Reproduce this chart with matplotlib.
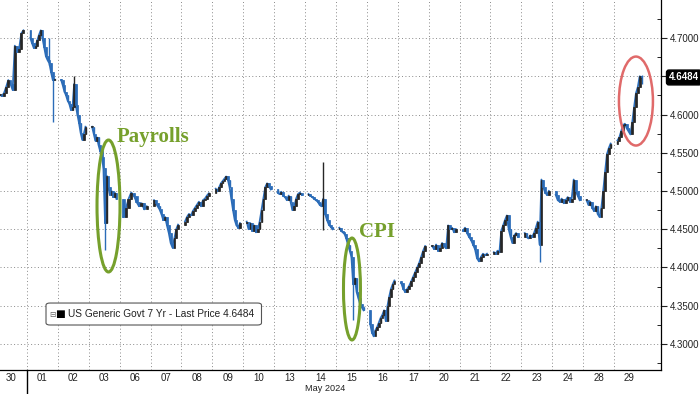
import matplotlib
matplotlib.use("Agg")
import matplotlib.pyplot as plt
import matplotlib.transforms as mtrans
from matplotlib.patches import Ellipse, FancyBboxPatch
import numpy as np

plt.rcParams['font.family'] = ['Liberation Sans', 'DejaVu Sans']

# day labels on the x axis (30 Apr .. 29 May 2024)
day_labels = ["30", "01", "02", "03", "06", "07", "08", "09", "10", "13", "14",
              "15", "16", "17", "20", "21", "22", "23", "24", "28", "29"]

# intraday closes of the US 7yr yield
apr30 = [4.626, 4.624, 4.628, 4.636, 4.645, 4.640, 4.632, 4.690, 4.682, 4.686, 4.706, 4.710]
may01 = [4.700, 4.693, 4.687, 4.690, 4.697, 4.704, 4.710, 4.700, 4.688, 4.676, 4.671, 4.667, 4.655, 4.645, 4.646]
may02 = [4.645, 4.638, 4.630, 4.625, 4.618, 4.614, 4.606, 4.610, 4.640, 4.612, 4.600, 4.589, 4.576, 4.567, 4.575, 4.584]
may03 = [4.584, 4.575, 4.566, 4.570, 4.560, 4.552, 4.545, 4.530, 4.458, 4.520, 4.505, 4.495, 4.500, 4.492, 4.498, 4.490]
may06 = [4.466, 4.478, 4.490, 4.498, 4.494, 4.486, 4.480, 4.484, 4.476, 4.480]
may07 = [4.488, 4.484, 4.480, 4.476, 4.470, 4.462, 4.466, 4.455, 4.445, 4.432, 4.426, 4.438, 4.450, 4.456]
may08 = [4.460, 4.466, 4.470, 4.468, 4.474, 4.478, 4.482, 4.486, 4.480, 4.488, 4.490, 4.494, 4.497]
may09 = [4.503, 4.500, 4.505, 4.510, 4.513, 4.516, 4.519, 4.515, 4.505, 4.490, 4.475, 4.462, 4.455, 4.452, 4.458]
may10 = [4.460, 4.450, 4.458, 4.448, 4.455, 4.446, 4.450, 4.460, 4.475, 4.490, 4.505, 4.510, 4.506, 4.502]
may13 = [4.498, 4.496, 4.499, 4.494, 4.492, 4.488, 4.494, 4.486, 4.475, 4.480, 4.490, 4.496, 4.498, 4.495]
may14 = [4.496, 4.494, 4.492, 4.490, 4.488, 4.486, 4.482, 4.480, 4.490, 4.470, 4.462, 4.456, 4.453, 4.450]
may15 = [4.452, 4.448, 4.446, 4.444, 4.438, 4.430, 4.422, 4.414, 4.378, 4.386, 4.368, 4.360, 4.352, 4.348, 4.344]
may16 = [4.326, 4.315, 4.310, 4.318, 4.322, 4.328, 4.334, 4.338, 4.344, 4.330, 4.350, 4.362, 4.372, 4.378, 4.383]
may17 = [4.380, 4.372, 4.368, 4.372, 4.376, 4.382, 4.388, 4.394, 4.400, 4.406, 4.414, 4.422, 4.428]
may20 = [4.428, 4.424, 4.430, 4.422, 4.426, 4.432, 4.428, 4.425, 4.455, 4.450, 4.452, 4.446, 4.450]
may21 = [4.448, 4.452, 4.445, 4.440, 4.436, 4.430, 4.424, 4.412, 4.408, 4.414, 4.418, 4.416, 4.418]
may22 = [4.420, 4.418, 4.422, 4.420, 4.448, 4.455, 4.462, 4.468, 4.450, 4.440, 4.432, 4.442, 4.445, 4.440]
may23 = [4.445, 4.440, 4.438, 4.442, 4.440, 4.445, 4.452, 4.460, 4.430, 4.515, 4.505, 4.498, 4.495, 4.500]
may24 = [4.495, 4.488, 4.486, 4.490, 4.484, 4.488, 4.492, 4.486, 4.490, 4.515, 4.500, 4.494, 4.488]
may28 = [4.488, 4.482, 4.486, 4.478, 4.474, 4.480, 4.470, 4.466, 4.478, 4.500, 4.525, 4.548, 4.556, 4.562]
may29 = [4.566, 4.570, 4.578, 4.586, 4.588, 4.582, 4.578, 4.574, 4.590, 4.610, 4.628, 4.636, 4.650, 4.6484]

sessions = [apr30, may01, may02, may03, may06, may07, may08, may09, may10, may13, may14,
            may15, may16, may17, may20, may21, may22, may23, may24, may28, may29]

# big intraday wicks: (day index, bar index, low, high)
wicks = [(1, 11, 4.665, 4.700), (1, 13, 4.590, 4.655), (2, 8, 4.610, 4.650),
         (3, 8, 4.423, 4.530), (10, 8, 4.449, 4.538), (11, 8, 4.331, 4.392),
         (17, 8, 4.407, 4.460), (20, 13, 4.640, 4.652)]

last_price = 4.6484

UP = "#262626"
DOWN = "#2b6cb8"
GREEN = "#76a02c"

fig = plt.figure(figsize=(7, 3.94), dpi=100)
ax = fig.add_axes([0, 24 / 394, 661 / 700, 370 / 394])

xs, opens, closes, widths, dayidx = [], [], [], [], []
prev = None
for i, day in enumerate(sessions):
    n = len(day)
    step = 0.84 / n
    for k, c in enumerate(day):
        x = i + 0.08 + step * (k + 0.5)
        o = c if prev is None else prev
        xs.append(x)
        opens.append(o)
        closes.append(c)
        widths.append(step * 0.9)
        dayidx.append((i, k))
        prev = c
    ax.plot([i + 0.08 + step * (k + 0.5) for k in range(n)], day,
            color=DOWN, lw=1.3, zorder=2)

xs = np.array(xs)
opens = np.array(opens)
closes = np.array(closes)
lows = np.minimum(opens, closes)
highs = np.maximum(opens, closes)
heights = closes - opens
heights = np.where(np.abs(heights) < 0.001, 0.001, heights)
colors = [UP if c >= o else DOWN for o, c in zip(opens, closes)]

for (d, k, lo, hi) in wicks:
    j = dayidx.index((d, k))
    lows[j] = min(lows[j], lo)
    highs[j] = max(highs[j], hi)

ax.vlines(xs, lows, highs, colors=colors, lw=1.0, zorder=3)
ax.bar(xs, heights, bottom=opens, width=widths, color=colors,
       edgecolor=colors, linewidth=0.5, zorder=4)

# axes
ax.set_xlim(0.126, 21.52)
ax.set_ylim(4.266, 4.7497)
ax.yaxis.tick_right()
ax.set_yticks(np.arange(4.30, 4.701, 0.05))
ax.set_yticks(np.arange(4.275, 4.75, 0.025), minor=True)
ax.yaxis.set_major_formatter(plt.FuncFormatter(lambda v, p: "%.4f" % v))
ax.tick_params(axis='y', which='major', direction='out', length=4, width=0.8,
               labelsize=7, pad=2, colors='#222222')
ax.tick_params(axis='y', which='minor', direction='in', length=3, width=0.6)
ax.set_xticks(np.arange(len(day_labels)) + 0.5)
ax.set_xticklabels(day_labels)
ax.tick_params(axis='x', length=0, labelsize=7, pad=2.5, colors='#222222')

for s in ['top', 'left']:
    ax.spines[s].set_visible(False)
ax.spines['right'].set_linewidth(0.9)
ax.spines['bottom'].set_linewidth(0.9)

grid_kw = dict(color='#8a8a8a', lw=0.7, ls=(0, (1, 2.5)), zorder=1)
for v in np.arange(4.30, 4.701, 0.05):
    ax.axhline(v, **grid_kw)
for b in range(1, len(day_labels)):
    ax.axvline(b, **grid_kw)

# month separator
blend = mtrans.blended_transform_factory(ax.transData, ax.transAxes)
ax.plot([1, 1], [0, -0.07], transform=blend, color='black', lw=1.0, clip_on=False)
ax.text(10.64, -0.062, "May 2024", transform=blend,
        ha='center', va='bottom', fontsize=6.6, color='#222222')

# last price tag
ax.text(1.012, last_price, "%.4f" % last_price,
        transform=mtrans.blended_transform_factory(ax.transAxes, ax.transData),
        ha='left', va='center', fontsize=7, color='white', fontweight='bold',
        bbox=dict(boxstyle='round,pad=0.25', fc='black', ec='black'))

# annotations
ax.add_patch(Ellipse((3.638, 4.4804), 0.744, 0.1725, fill=False, ec=GREEN, lw=2.2, zorder=6))
ax.add_patch(Ellipse((11.518, 4.3719), 0.55, 0.1333, fill=False, ec=GREEN, lw=2.2, zorder=6))
ax.add_patch(Ellipse((20.709, 4.6176), 1.10, 0.1163, fill=False, ec='#e06a6a', lw=1.8, zorder=6))
ax.text(5.078, 4.564, "Payrolls", family='Liberation Serif', fontweight='bold',
        fontsize=15, color=GREEN, ha='center', va='baseline', zorder=7)
ax.text(12.327, 4.4399, "CPI", family='Liberation Serif', fontweight='bold',
        fontsize=15, color=GREEN, ha='center', va='baseline', zorder=7)

# legend box
ax.add_patch(FancyBboxPatch((0.0696, 0.1216), 0.326, 0.0594, transform=ax.transAxes,
                            boxstyle='round,pad=0,rounding_size=0.006', fc='white',
                            ec='#555555', lw=0.8, zorder=8))
ax.text(0.080, 0.151, "\u229f", transform=ax.transAxes, fontsize=5.5, color='#666666',
        ha='center', va='center', family='DejaVu Sans', zorder=9)
ax.text(0.0905, 0.151, "\u25a0", transform=ax.transAxes, fontsize=7.5, color='black',
        ha='center', va='center', family='DejaVu Sans', zorder=9)
ax.text(0.1035, 0.151, "US Generic Govt 7 Yr - Last Price %.4f" % last_price,
        transform=ax.transAxes, fontsize=7.3, color='#222222', ha='left', va='center', zorder=9)

fig.savefig("out.png", dpi=100)
